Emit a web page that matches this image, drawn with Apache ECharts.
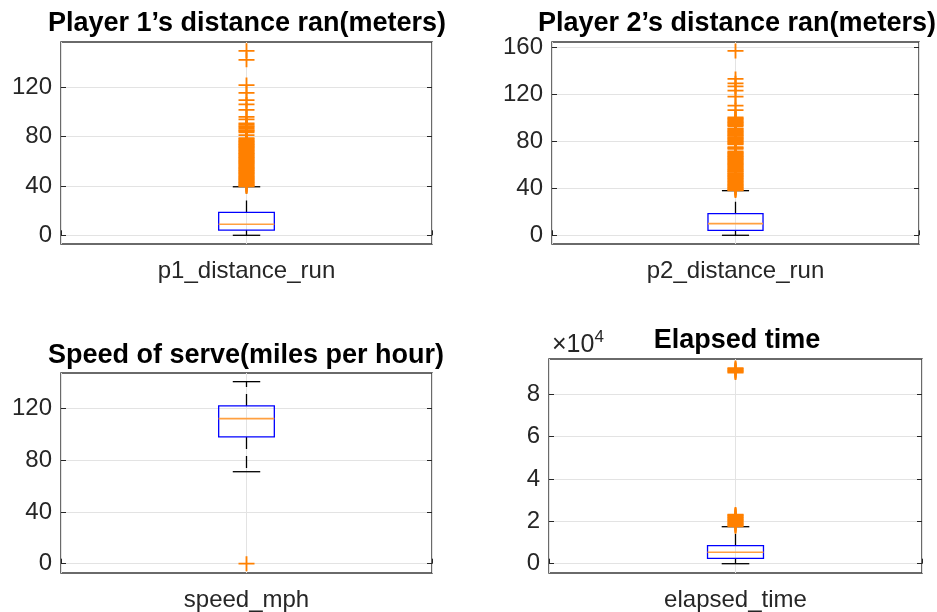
<!DOCTYPE html>
<html><head><meta charset="utf-8">
<script src="https://cdn.jsdelivr.net/npm/echarts@6/dist/echarts.min.js"></script>
<style>html,body{margin:0;padding:0;background:#fff}#c{width:937px;height:612px}</style>
</head><body><div id="c"></div>
<script>
// ---------- data ----------
const titles = ["Player 1’s distance ran(meters)", "Player 2’s distance ran(meters)", "Speed of serve(miles per hour)", "Elapsed time"];
const categories = ["p1_distance_run", "p2_distance_run", "speed_mph", "elapsed_time"];
// [lower whisker, Q1, median, Q3, upper whisker]
const p1Box = [0, 4.2, 9.0, 18.6, 39.4];
const p2Box = [0, 4.2, 9.9, 18.4, 37.9];
const speedBox = [71.2, 98.1, 112.3, 122.1, 140.9];
const elapsedBox = [0, 2550, 5400, 8480, 17450];
const p1Outliers = [149.7, 142.4, 121.9, 115.6, 109.7, 106.2, 101.8, 96.2, 94.1, 90.8, 89.9, 88.7, 87.6, 86.5, 85.4, 84.5, 83.6, 81.4,
  78.8, 78.0, 77.1, 76.4, 75.6, 74.9, 74.1, 73.3, 72.6, 71.8, 71.1, 70.3, 69.6, 68.8, 68.1, 67.2, 66.6, 65.8, 65.0, 64.3, 63.5, 62.8,
  62.0, 61.3, 60.5, 59.8, 59.0, 58.3, 57.5, 56.8, 56.0, 55.2, 54.5, 53.8, 53.0, 52.3, 51.5, 50.7, 50.0, 49.2, 48.5, 47.7, 47.0, 46.2,
  45.5, 44.7, 44.0, 43.2, 42.5, 41.7, 41.0, 40.3, 39.7];
const p2Outliers = [156.6, 132.8, 129.1, 126.5, 122.8, 117.7, 110.1, 106.4, 100.2, 99.3, 98.6, 97.7, 96.8, 96.0, 95.2, 94.3, 93.6, 92.8,
  90.9, 90.1, 89.2, 88.5, 87.6, 86.8, 86.0, 85.1, 84.4, 83.5, 82.8, 81.9, 81.2, 80.3, 79.6, 78.7, 77.9, 77.2, 75.0, 74.2, 73.5,
  71.3, 70.5, 69.8, 68.9, 68.2, 67.3, 66.6, 65.7, 64.9, 64.2, 63.4, 62.5, 61.8, 60.9, 60.2, 59.3, 58.6, 57.7, 56.9, 56.1, 55.4,
  54.5, 53.8, 52.9, 52.2, 51.3, 50.5, 49.8, 48.9, 48.2, 47.4, 46.5, 45.8, 44.9, 44.2, 43.3, 42.6, 41.7, 40.9, 40.2, 39.4, 38.6, 38.1];
const speedOutliers = [0];
const elapsedOutliers = [17620, 18050, 18500, 18920, 19380, 19800, 20260, 20690, 21140, 21570, 22010, 22450, 22900, 23150,
  90150, 90560, 90980, 91420, 91870, 92280];
const p1Ticks = [0, 40, 80, 120];
const p2Ticks = [0, 40, 80, 120, 160];
const speedTicks = [0, 40, 80, 120];
const elapsedTicks = [0, 20000, 40000, 60000, 80000];

// ---------- layout ----------
const F = 'Liberation Sans, Arial, Helvetica, sans-serif';
const TXT = '#262626';
const panels = [
  {box: p1Box, out: p1Outliers, ticks: p1Ticks, grid: {left: 61, top: 42, width: 371, height: 202}, y: [-7.06, 156.9], tx: 247, ty: 10},
  {box: p2Box, out: p2Outliers, ticks: p2Ticks, grid: {left: 552, top: 42, width: 367, height: 202}, y: [-7.4, 164.2], tx: 737, ty: 10},
  {box: speedBox, out: speedOutliers, ticks: speedTicks, grid: {left: 61, top: 373, width: 371, height: 200}, y: [-7.2, 147.6], tx: 246, ty: 342},
  {box: elapsedBox, out: elapsedOutliers, ticks: elapsedTicks, grid: {left: 549, top: 359, width: 373, height: 214}, y: [-4390, 96560], tx: 737, ty: 327, scaled: true}
];

function renderBox(params, api) {
  const x = api.value(0);
  const pts = [1, 2, 3, 4, 5].map(k => api.coord([x, api.value(k)]));
  const cx = pts[0][0];
  const band = api.size([1, 0])[0];
  const hw = band * 0.075, cw = band * 0.037;
  const yLo = pts[0][1], yQ1 = pts[1][1], yMed = pts[2][1], yQ3 = pts[3][1], yHi = pts[4][1];
  const blk = {stroke: '#000', lineWidth: 1.3};
  const dash = {stroke: '#000', lineWidth: 1.3, lineDash: [12, 7]};
  return {type: 'group', children: [
    {type: 'line', shape: {x1: cx, y1: yQ3, x2: cx, y2: yHi}, style: dash},
    {type: 'line', shape: {x1: cx, y1: yQ1, x2: cx, y2: yLo}, style: dash},
    {type: 'line', shape: {x1: cx - cw, y1: yHi, x2: cx + cw, y2: yHi}, style: blk},
    {type: 'line', shape: {x1: cx - cw, y1: yLo, x2: cx + cw, y2: yLo}, style: blk},
    {type: 'rect', shape: {x: cx - hw, y: yQ3, width: 2 * hw, height: yQ1 - yQ3}, style: {fill: 'none', stroke: '#0000ff', lineWidth: 1.3}},
    {type: 'line', shape: {x1: cx - hw, y1: yMed, x2: cx + hw, y2: yMed}, style: {stroke: '#ffa040', lineWidth: 1.6}}
  ]};
}

const grids = [], xAxes = [], yAxes = [], titleOpt = [], series = [];
panels.forEach((p, i) => {
  grids.push(Object.assign({show: true, borderColor: '#3a3a3a', borderWidth: 1.5, backgroundColor: '#fff', containLabel: false, outerBoundsMode: 'none'}, p.grid));
  titleOpt.push({text: titles[i], left: p.tx, top: p.ty, textAlign: 'center', padding: 0,
    textStyle: {fontFamily: F, fontSize: 27, fontWeight: 'bold', color: '#000'}});
});
panels.forEach((p, i) => {
  xAxes.push({type: 'category', gridIndex: i, data: [categories[i]], axisLine: {show: false}, axisTick: {show: false},
    splitLine: {show: false}, axisLabel: {fontFamily: F, fontSize: 24, color: TXT, margin: 15}});
});
panels.forEach((p, i) => {
  xAxes.push({type: 'value', gridIndex: i, min: 0, max: 2, interval: 1, position: 'bottom', axisLine: {show: false},
    axisLabel: {show: false}, axisTick: {show: true, inside: true, length: 5, lineStyle: {color: TXT}},
    splitLine: {show: true, lineStyle: {color: '#e3e3e3', width: 1}}});
});
panels.forEach((p, i) => {
  const fmt = p.scaled ? (v => String(v / 10000)) : (v => String(v));
  const y = {type: 'value', gridIndex: i, min: p.y[0], max: p.y[1], position: 'left', axisLine: {show: false},
    axisTick: {show: true, inside: true, length: 5, lineStyle: {color: TXT}, customValues: p.ticks},
    axisLabel: {fontFamily: F, fontSize: 24, color: TXT, margin: 9, customValues: p.ticks, formatter: fmt},
    splitLine: {show: true, lineStyle: {color: '#e3e3e3', width: 1}}};
  if (p.scaled) {
    y.name = '{a|×10}{b|4}';
    y.nameLocation = 'end';
    y.nameGap = -3;
    y.nameTextStyle = {align: 'left', verticalAlign: 'bottom', padding: [0, 0, 0, 3], rich: {
      a: {fontFamily: F, fontSize: 25, color: TXT},
      b: {fontFamily: F, fontSize: 17, color: TXT, padding: [0, 0, 16, 0]}}};
  }
  yAxes.push(y);
});
panels.forEach((p, i) => {
  yAxes.push({type: 'value', gridIndex: i, min: p.y[0], max: p.y[1], position: 'right', axisLine: {show: false},
    axisTick: {show: true, inside: true, length: 5, lineStyle: {color: TXT}, customValues: p.ticks},
    axisLabel: {show: false}, splitLine: {show: false}});
});
panels.forEach((p, i) => {
  series.push({type: 'custom', xAxisIndex: i, yAxisIndex: i, renderItem: renderBox, z: 3,
    encode: {x: 0, y: [1, 2, 3, 4, 5]}, data: [[0].concat(p.box)], silent: true});
  series.push({type: 'scatter', xAxisIndex: i, yAxisIndex: i, z: 4, silent: true,
    symbol: 'path://M8,0L8,15M0,7.5L16,7.5', symbolSize: [16, 15],
    itemStyle: {color: 'rgba(0,0,0,0)', borderColor: '#ff8000', borderWidth: 1.8, opacity: 1},
    data: p.out.map(v => [0, v])});
});

const chart = echarts.init(document.getElementById('c'), null, {renderer: 'canvas'});
chart.setOption({animation: false, backgroundColor: '#fff', title: titleOpt, grid: grids, xAxis: xAxes, yAxis: yAxes, series: series});
</script></body></html>
